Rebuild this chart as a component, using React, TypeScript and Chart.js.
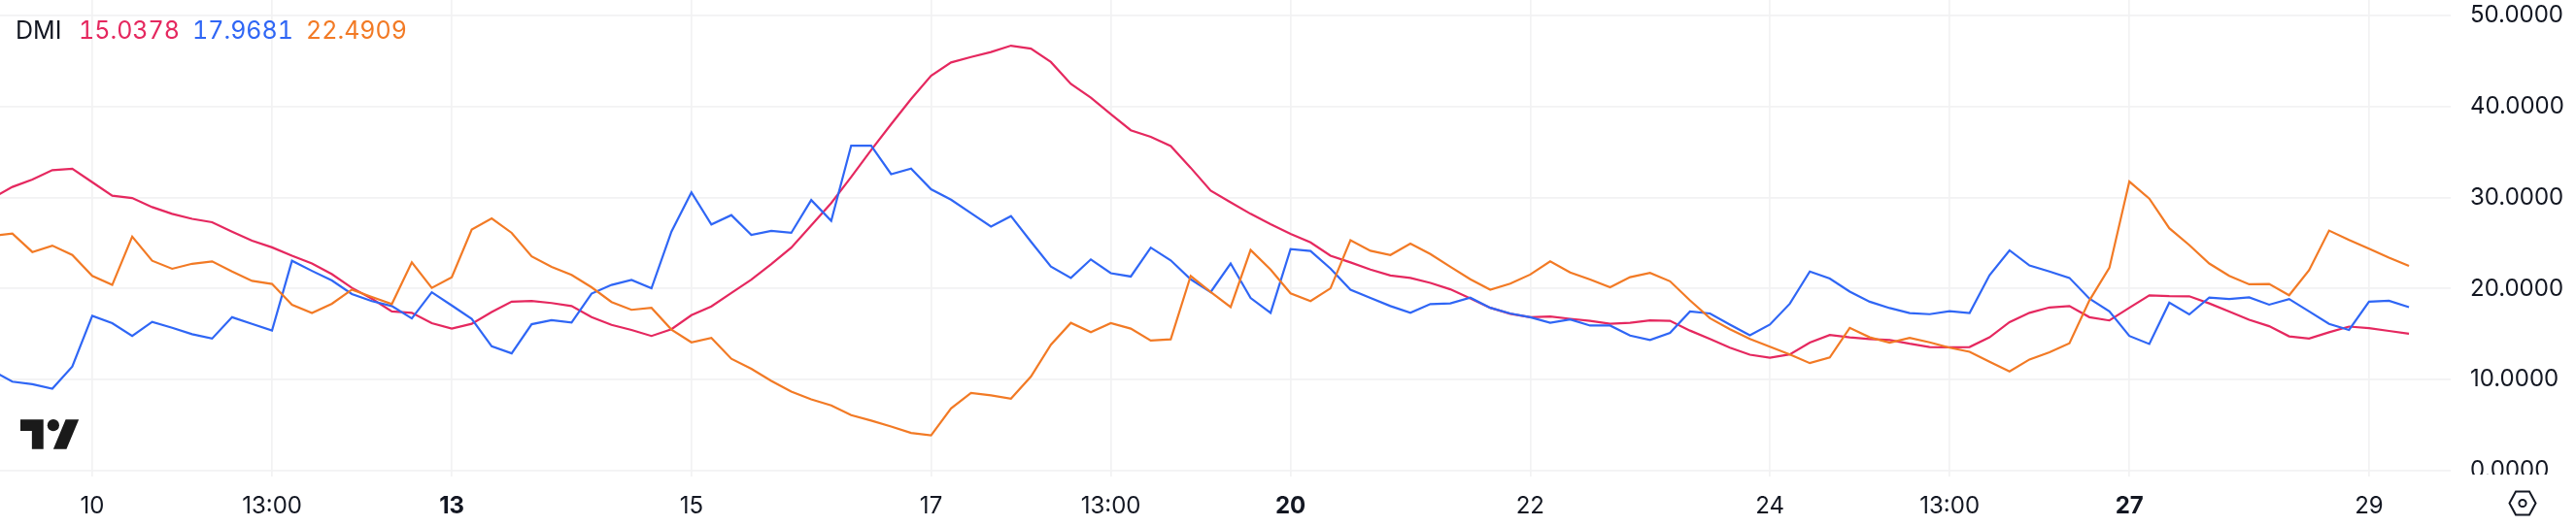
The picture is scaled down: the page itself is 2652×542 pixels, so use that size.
import React, { useEffect, useRef } from "react";
import { Chart, registerables } from "chart.js";

Chart.register(...registerables);

const adxRed = [29.93,31.15,31.96,32.99,33.14,31.67,30.19,29.93,28.94,28.20,27.65,27.28,26.25,25.26,24.52,23.60,22.75,21.58,20.07,18.89,17.49,17.34,16.20,15.61,16.13,17.42,18.56,18.63,18.41,18.08,16.86,16.02,15.46,14.80,15.54,17.08,18.04,19.51,20.99,22.68,24.49,26.92,29.38,32.25,35.20,38.03,40.80,43.34,44.81,45.40,45.95,46.65,46.32,44.85,42.45,40.94,39.14,37.37,36.64,35.64,33.25,30.74,29.46,28.20,27.06,25.99,25.07,23.60,22.87,22.09,21.43,21.17,20.62,19.92,18.93,17.89,17.23,16.86,16.94,16.68,16.46,16.13,16.24,16.50,16.46,15.39,14.47,13.51,12.74,12.41,12.78,14.07,14.91,14.65,14.47,14.36,13.95,13.59,13.55,13.59,14.65,16.31,17.34,17.93,18.08,16.86,16.50,17.89,19.26,19.18,19.15,18.37,17.49,16.57,15.87,14.76,14.51,15.21,15.83,15.65,15.35,15.0378];
const plusDiBlue = [10.97,9.79,9.50,9.02,11.45,17.01,16.20,14.80,16.35,15.69,14.99,14.51,16.86,16.13,15.39,23.05,21.94,20.88,19.40,18.63,18.08,16.72,19.59,18.15,16.68,13.66,12.89,16.09,16.53,16.27,19.44,20.40,20.95,20.03,26.25,30.56,27.03,28.06,25.88,26.33,26.11,29.71,27.43,35.68,35.68,32.55,33.17,30.89,29.75,28.28,26.80,27.95,25.15,22.42,21.17,23.20,21.69,21.32,24.49,23.09,21.02,19.62,22.75,18.96,17.34,24.34,24.12,22.20,19.88,18.96,18.08,17.34,18.30,18.37,19.00,17.89,17.27,16.86,16.24,16.61,15.94,15.94,14.84,14.36,15.13,17.49,17.27,16.05,14.88,16.05,18.34,21.87,21.10,19.66,18.56,17.86,17.31,17.19,17.53,17.31,21.47,24.19,22.53,21.87,21.17,18.89,17.49,14.80,13.92,18.45,17.16,19.00,18.85,19.04,18.23,18.85,17.49,16.13,15.46,18.56,18.67,17.9681];
const minusDiOrange = [25.77,26.03,24.01,24.71,23.68,21.39,20.40,25.70,23.05,22.17,22.72,22.98,21.87,20.84,20.51,18.23,17.31,18.34,19.88,19.07,18.30,22.87,20.07,21.25,26.47,27.69,26.11,23.53,22.39,21.50,20.14,18.52,17.67,17.89,15.50,14.10,14.58,12.30,11.19,9.87,8.69,7.84,7.18,6.11,5.52,4.86,4.16,3.90,6.85,8.54,8.28,7.92,10.35,13.84,16.24,15.21,16.20,15.61,14.29,14.43,21.39,19.62,17.97,24.23,22.09,19.48,18.63,20.03,25.30,24.15,23.68,24.93,23.79,22.39,21.02,19.88,20.55,21.54,22.98,21.76,20.99,20.14,21.25,21.72,20.80,18.70,16.75,15.54,14.47,13.62,12.78,11.82,12.45,15.69,14.65,14.07,14.58,14.10,13.51,13.07,11.97,10.90,12.22,13.00,13.99,18.70,22.28,31.74,29.86,26.62,24.78,22.75,21.39,20.47,20.51,19.26,22.02,26.36,25.33,24.37,23.38,22.4909];

const legendName = "DMI";
const legendValues = ["15.0378", "17.9681", "22.4909"];
const xTickBars = [5, 14, 23, 35, 47, 56, 65, 77, 89, 98, 107, 119];
const xTickLabels = ["10", "13:00", "13", "15", "17", "13:00", "20", "22", "24", "13:00", "27", "29"];
const xTickBold = ["13", "20", "27"];
const yTickValues = [0, 10, 20, 30, 40, 50];

const RED = "#e5285f";
const BLUE = "#2f66f5";
const ORANGE = "#f27a25";
const GRID = "#f2f2f3";
const TEXT = "#131722";
const FONT = "Inter, sans-serif";

const clipBottomLabel = {
  id: "clipBottomLabel",
  afterDraw(chart: any) {
    const { ctx, chartArea } = chart;
    ctx.save();
    ctx.fillStyle = "#ffffff";
    ctx.fillRect(chartArea.right, chartArea.bottom - 2, chart.width - chartArea.right, 16);
    ctx.restore();
  },
};

const noPadding = (s: any) => {
  s.paddingTop = 0;
  s.paddingBottom = 0;
  s.paddingLeft = 0;
  s.paddingRight = 0;
};

export default function App() {
  const ref = useRef<HTMLCanvasElement | null>(null);
  useEffect(() => {
    document.body.style.margin = "0";
    document.body.style.background = "#ffffff";
    const mk = (label: string, data: number[], color: string, order: number) => ({
      label,
      data: data.map((y, i) => ({ x: i, y })),
      borderColor: color,
      borderWidth: 2.2,
      pointRadius: 0,
      tension: 0,
      order,
    });
    const chart = new Chart(ref.current as HTMLCanvasElement, {
      type: "line",
      data: {
        datasets: [
          mk("ADX", adxRed, RED, 3),
          mk("+DI", plusDiBlue, BLUE, 2),
          mk("-DI", minusDiOrange, ORANGE, 1),
        ],
      },
      plugins: [clipBottomLabel],
      options: {
        animation: false,
        responsive: false,
        devicePixelRatio: 1,
        parsing: false,
        normalized: true,
        layout: { padding: 0 },
        plugins: { legend: { display: false }, tooltip: { enabled: false }, title: { display: false } },
        scales: {
          x: {
            type: "linear",
            min: 0.38,
            max: 123.09,
            border: { display: false },
            grid: { color: GRID, lineWidth: 1.7, drawTicks: false },
            afterBuildTicks: (s: any) => { s.ticks = xTickBars.map((value) => ({ value })); },
            afterFit: (s: any) => { s.height = 51; noPadding(s); },
            ticks: {
              autoSkip: false,
              maxRotation: 0,
              minRotation: 0,
              padding: 16,
              color: TEXT,
              font: (c: any) => {
                const lab = xTickLabels[xTickBars.indexOf(c.tick?.value)];
                return { family: FONT, size: 24, weight: xTickBold.includes(lab) ? "700" : "400" };
              },
              callback: (v: any) => xTickLabels[xTickBars.indexOf(v)] ?? "",
            },
          },
          y: {
            type: "linear",
            position: "right",
            min: -0.62,
            max: 51.66,
            border: { display: false },
            grid: { color: GRID, lineWidth: 1.7, drawTicks: false },
            afterBuildTicks: (s: any) => { s.ticks = yTickValues.map((value) => ({ value })); },
            afterFit: (s: any) => { s.width = 129; noPadding(s); },
            ticks: {
              padding: 20,
              color: TEXT,
              font: { family: FONT, size: 24 },
              callback: (v: any) => Number(v).toFixed(4),
            },
          },
        },
      } as any,
    } as any);
    return () => chart.destroy();
  }, []);

  const legendColors = [RED, BLUE, ORANGE];
  const legendLefts = [81, 198, 315];
  const textStyle = (left: number, color: string) => ({
    position: "absolute" as const,
    left,
    top: 15,
    font: `25px ${FONT}`,
    fontVariantNumeric: "tabular-nums",
    lineHeight: "32px",
    whiteSpace: "nowrap" as const,
    color,
  });
  return (
    <div style={{ position: "absolute", left: 0, top: 0, width: 2652, height: 542, background: "#fff", overflow: "hidden" }}>
      <canvas ref={ref} width={2652} height={542} style={{ display: "block", width: 2652, height: 542 }} />
      <span style={textStyle(16, TEXT)}>{legendName}</span>
      {legendValues.map((v, i) => (
        <span key={v} style={textStyle(legendLefts[i], legendColors[i])}>{v}</span>
      ))}
      <svg style={{ position: "absolute", left: 21, top: 432 }} width={61} height={31} viewBox="0 4 36 18">
        <path fill="#1a1a1a" d="M14 22H7V11H0V4h14v18zM28 22h-8l7.5-18h8L28 22z" />
        <circle fill="#1a1a1a" cx="20" cy="7.5" r="3.6" />
      </svg>
      <svg style={{ position: "absolute", left: 2582, top: 505 }} width={30} height={27} viewBox="0 0 30 27">
        <path fill="none" stroke="#131722" strokeWidth="2" d="M8 1.5H22L28.5 13.5L22 25.5H8L1.5 13.5Z" />
        <circle fill="none" stroke="#131722" strokeWidth="2" cx="15" cy="13.5" r="3.6" />
      </svg>
    </div>
  );
}
